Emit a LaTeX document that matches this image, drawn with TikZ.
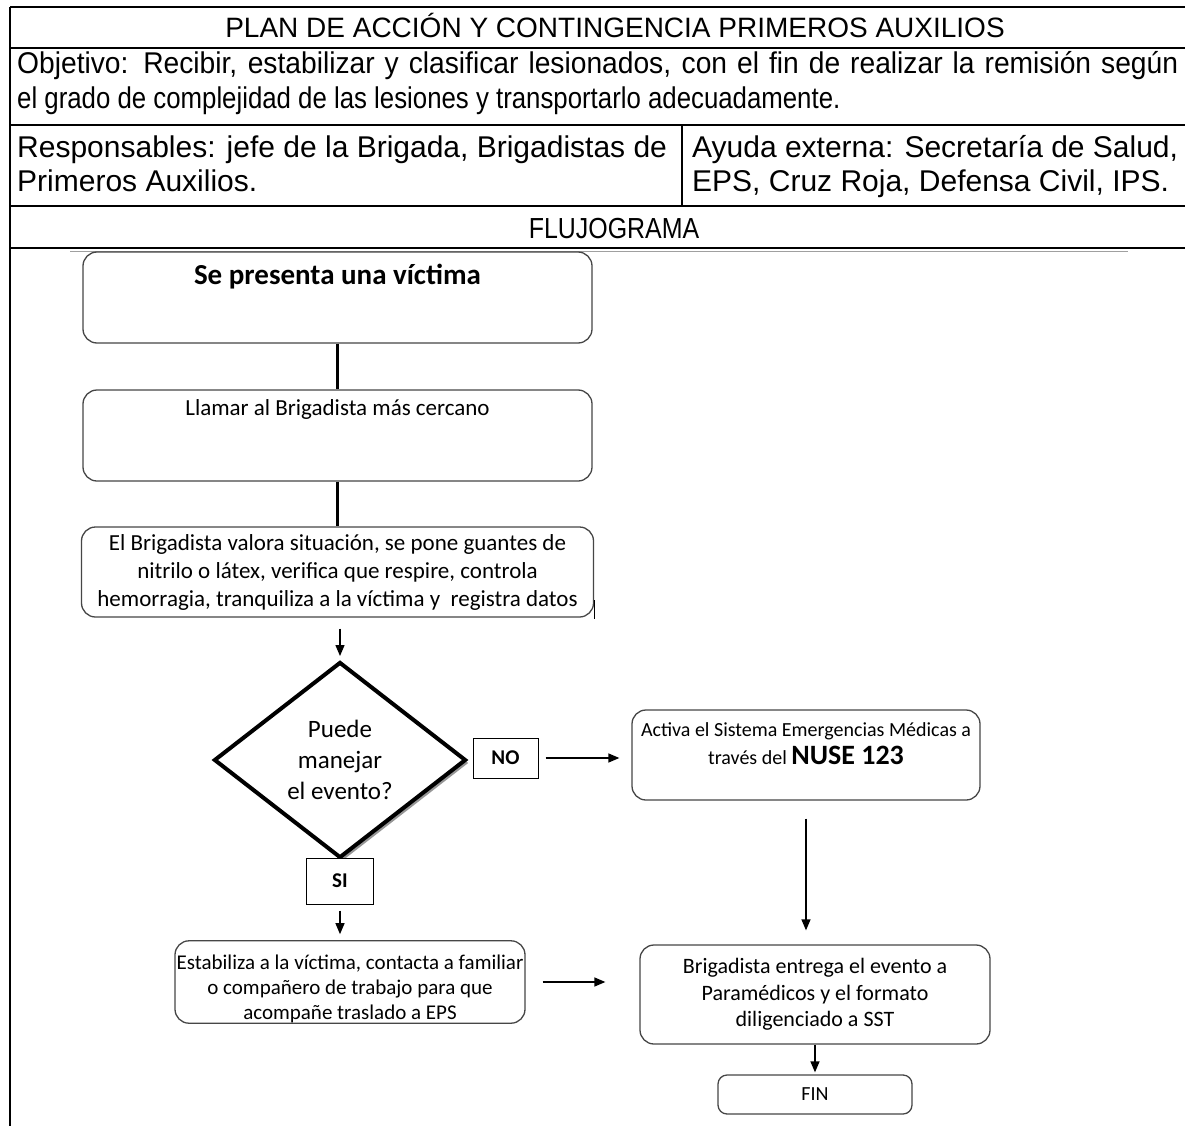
\documentclass[tikz,border=0pt]{standalone}
\usepackage{fontspec}
\setmainfont{Liberation Sans}
\newfontfamily\narrowsans[FakeStretch=0.86]{Liberation Sans}
\newfontfamily\objsans[FakeStretch=0.94]{Liberation Sans}
\newfontfamily\cali{Carlito}
\usepackage{xcolor}
\usepackage{tikz}
\usetikzlibrary{arrows.meta, positioning, shapes.geometric, shadows}
\definecolor{flowgray}{RGB}{70, 70, 70}
\definecolor{flowshade}{RGB}{150, 150, 150}
\definecolor{flowrule}{RGB}{160, 160, 160}

\begin{document}
\begin{tikzpicture}[x=1pt, y=-1pt,
        cell/.style={font=\fontsize{30}{35}\selectfont, inner sep=0pt},
        rule/.style={line width=1.8pt, draw=black},
        stepbox/.style={rectangle, rounded corners=14pt, draw=flowgray, line width=1.3pt, fill=white, minimum width=509pt, minimum height=91pt, align=center, inner sep=0pt, font=\cali\fontsize{23}{28}\selectfont},
        endbox/.style={stepbox, rounded corners=9pt, minimum width=194pt, minimum height=39pt, font=\cali\fontsize{20}{24}\selectfont},
        decision/.style={diamond, draw=black, line width=4pt, fill=white, aspect=1.29, minimum width=252pt, minimum height=196pt, inner sep=0pt, align=center, font=\cali\fontsize{25}{31}\selectfont, drop shadow={shadow xshift=3pt, shadow yshift=-3pt, fill=flowshade, opacity=1}},
        answer/.style={rectangle, draw=black, line width=1pt, fill=white, inner sep=0pt, font=\cali\bfseries\fontsize{21}{25}\selectfont},
        arrow/.style={-{Triangle[length=11pt, width=9pt]}, line width=1.3pt, draw=black},
        link/.style={line width=3.5pt, draw=black}
    ]
        \useasboundingbox (0,0) rectangle (1185,1126);
        \draw[rule] (10,7) -- (1185,7);
        \draw[rule] (10,48) -- (1185,48);
        \draw[rule] (10,125) -- (1185,125);
        \draw[rule] (10,206) -- (1185,206);
        \draw[rule] (10,248) -- (1185,248);
        \draw[rule] (10,7) -- (10,1126);
        \draw[rule] (682,125) -- (682,206);
        \draw[flowrule, line width=1pt] (70,251) -- (1128,251);
        \node[cell, anchor=base, font=\fontsize{28}{35}\selectfont] (title) at (615,38) {PLAN DE ACCIÓN Y CONTINGENCIA PRIMEROS AUXILIOS};
        \node[cell, anchor=base west, font=\objsans\fontsize{30}{35}\selectfont] (obj1) at (17,74) {\makebox[1161pt][s]{Objetivo: Recibir, estabilizar y clasificar lesionados, con el fin de realizar la remisión según}};
        \node[cell, anchor=base west, font=\narrowsans\fontsize{30}{35}\selectfont] (obj2) at (17,109) {el grado de complejidad de las lesiones y transportarlo adecuadamente.};
        \node[cell, anchor=base west] (resp1) at (17,158) {Responsables: jefe de la Brigada, Brigadistas de};
        \node[cell, anchor=base west] (resp2) at (17,191) {Primeros Auxilios.};
        \node[cell, anchor=base west] (ayuda1) at (692,158) {Ayuda externa: Secretaría de Salud,};
        \node[cell, anchor=base west] (ayuda2) at (692,191) {EPS, Cruz Roja, Defensa Civil, IPS.};
        \node[cell, anchor=base, font=\narrowsans\fontsize{29}{35}\selectfont] (flujo) at (614,238) {FLUJOGRAMA};
        \node[stepbox, text height=32pt, text depth=59pt, font=\cali\bfseries\fontsize{29}{34}\selectfont] (victima) at (337.5,297.5) {Se presenta una víctima};
        \node[stepbox, text height=25pt, text depth=66pt] (llamar) at (337.5,435.5) {Llamar al Brigadista más cercano};
        \node[stepbox, minimum width=512pt, minimum height=90pt] (valora) at (337.5,572) {El Brigadista valora situación, se pone guantes de\\nitrilo o látex, verifica que respire, controla\\hemorragia, tranquiliza a la víctima y \ registra datos};
        \draw[line width=1pt] (594,600) -- (594,619);
        \node[decision] (decide) at (340,760) {Puede\\manejar\\el evento?};
        \node[answer, minimum width=65pt, minimum height=40pt] (no) at (505.5,758) {NO};
        \node[answer, minimum width=67pt, minimum height=46pt] (si) at (340,881) {SI};
        \node[stepbox, minimum width=348pt, minimum height=90pt, font=\cali\fontsize{20}{28}\selectfont] (nuse) at (806,755) {Activa el Sistema Emergencias Médicas a\\través del {\bfseries\fontsize{28}{28}\selectfont NUSE 123}\rule[-22pt]{0pt}{22pt}};
        \node[stepbox, minimum width=350pt, minimum height=80pt, font=\cali\fontsize{21}{25}\selectfont] (estabiliza) at (350,982) {\rule{0pt}{29pt}Estabiliza a la víctima, contacta a familiar\\o compañero de trabajo para que\\acompañe traslado a EPS};
        \node[stepbox, minimum width=350pt, minimum height=99pt, font=\cali\fontsize{22}{26.5}\selectfont] (entrega) at (815,994.5) {Brigadista entrega el evento a\\Paramédicos y el formato\\diligenciado a SST};
        \node[endbox] (fin) at (815,1094.5) {FIN};
        \draw[link] (victima) -- (llamar);
        \draw[link] (llamar) -- (valora);
        \draw[arrow, shorten <=11pt, shorten >=4pt] (valora.south -| decide.north) -- (decide.north);
        \draw[arrow, shorten <=7pt, shorten >=12pt] (no.east) -- (no.east -| nuse.west);
        \draw[arrow, shorten <=18pt, shorten >=14pt] (nuse.south) -- (nuse.south |- entrega.north);
        \draw[arrow, shorten <=6pt, shorten >=6pt] (si) -- (si |- estabiliza.north);
        \draw[arrow, shorten <=17pt, shorten >=34pt] (estabiliza.east) -- (estabiliza.east -| entrega.west);
        \draw[arrow, shorten >=2pt] (entrega) -- (fin);
    \end{tikzpicture}
\end{document}
